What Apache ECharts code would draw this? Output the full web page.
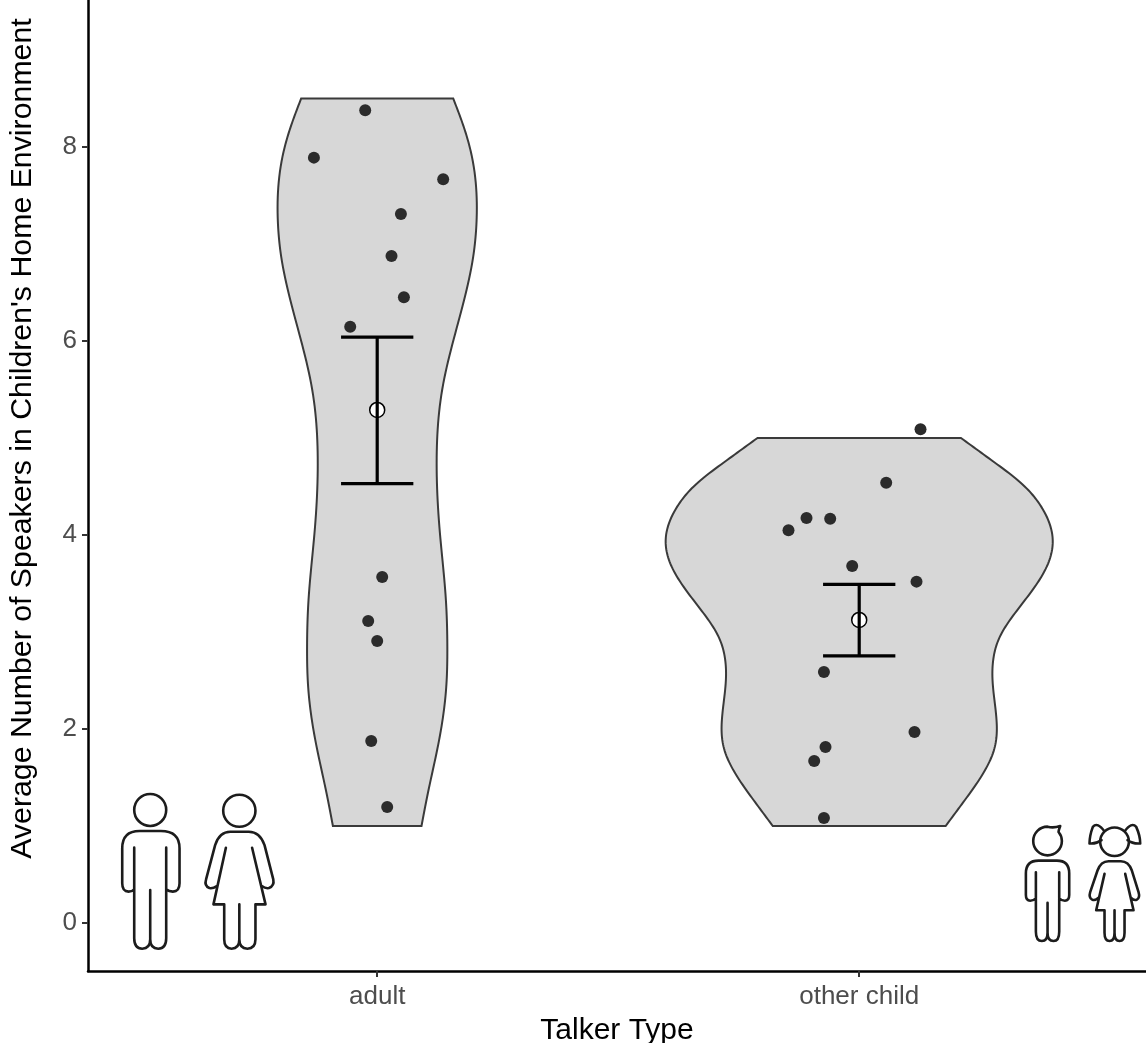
<!DOCTYPE html>
<html><head><meta charset="utf-8">
<style>html,body{margin:0;padding:0;background:#fff}#c{width:1146px;height:1043px}</style>
<script src="https://cdn.jsdelivr.net/npm/echarts@6/dist/echarts.min.js"></script>
</head><body><div id="c"></div>
<script>
const categories = ['adult', 'other child'];
const yTicks = [0, 2, 4, 6, 8];

const adultProfileY = [8.5,8.2,7.9,7.27,6.87,6.19,5.5,4.8,4.02,3.33,2.85,2.43,1.89,1.34,1.0];
const adultProfileW = [.1577,.18,.1965,.2064,.1992,.168,.1349,.1234,.1301,.1425,.1455,.1432,.1286,.1052,.0919];
const childProfileY = [5.0,4.773,4.498,4.292,3.948,3.708,3.467,3.193,2.952,2.711,2.505,2.093,1.818,1.543,1.268,1.0];
const childProfileW = [.211,.2739,.3438,.3776,.4015,.3921,.3645,.323,.2919,.278,.2766,.2849,.2815,.2573,.2193,.1793];

const adultPoints = [[.9751,8.378],[.8687,7.89],[1.1369,7.667],[1.0492,7.309],[1.0297,6.876],[1.0554,6.451],[.944,6.147],[1.0104,3.567],[.9813,3.113],[1.0,2.907],[.9876,1.876],[1.0207,1.196]];
const childPoints = [[2.1272,5.09],[2.056,4.539],[1.8907,4.175],[1.9398,4.168],[1.8533,4.048],[1.9855,3.68],[2.1189,3.519],[1.9268,2.588],[2.1147,1.969],[1.9301,1.814],[1.9066,1.67],[1.9268,1.082]];

const means = [5.289, 3.124];
const errUpper = [6.04, 3.49];
const errLower = [4.53, 2.753];
const capHalf = 0.075;

const iconBoxes = [
  [.471,.5899,1.33,-.265],
  [.6438,.7849,1.322,-.265],
  [2.3458,2.4357,1.0,-.186],
  [2.4778,2.583,1.01,-.186]
];
const iconPaths = [
 'M102 90A48 48 0 1 1 198 90A48 48 0 1 1 102 90ZM102 203L102 475Q102 506 126 506Q150 506 150 478L150 330M150 478Q150 506 174 506Q198 506 198 475L198 203M102 328Q96 335 85 335Q66 335 66 310L66 205Q66 153 118 153L182 153Q238 153 238 205L238 310Q238 335 218 335Q206 335 198 328',
 'M369 92A48 48 0 1 1 465 92A48 48 0 1 1 369 92ZM377 203L340 373L372 373L372 478Q372 506 394 506Q417 506 417 478L417 373M417 478Q417 506 441 506Q465 506 465 478L465 373L495 373L455 203M350 318Q338 326 328 324Q312 318 318 298L345 195Q358 155 390 155L445 155Q478 155 492 195L518 298Q522 318 505 324Q495 326 484 318',
 'M112 50Q130 55 150 48Q145 62 145 66Q155 78 155 93A43 43 0 1 1 112 50ZM77 187L77 365Q77 393 95 393Q112 393 112 368L112 278M112 368Q112 393 130 393Q147 393 147 365L147 187M77 265Q70 272 60 272Q47 272 47 255L47 190Q47 152 85 152L140 152Q177 152 177 190L177 255Q177 272 164 272Q154 272 147 265',
 'M270 93A43 43 0 1 1 356 93A43 43 0 1 1 270 93ZM283 62Q262 32 248 48Q238 75 238 98Q258 100 274 88M343 62Q364 32 378 48Q390 75 390 98Q368 100 352 88M283 190L258 300L283 300L283 368Q283 393 298 393Q313 393 313 368L313 300M313 368Q313 393 328 393Q343 393 343 368L343 300L370 300L345 190M265 262Q255 272 246 268Q235 262 240 245L262 180Q272 152 295 152L332 152Q355 152 365 180L385 245Q390 262 380 268Q372 272 362 262'
];

const FONT = '"Liberation Sans", Arial, sans-serif';

// Outline of a violin: a natural cubic spline through the read-off knots (drawing only).
function outline(ys, ws) {
  const n = ys.length, h = [], a = new Array(n).fill(0), b = new Array(n).fill(1), c = new Array(n).fill(0), d = new Array(n).fill(0);
  for (let i = 0; i < n - 1; i++) h.push(ys[i + 1] - ys[i]);
  for (let i = 1; i < n - 1; i++) {
    a[i] = h[i - 1]; b[i] = 2 * (h[i - 1] + h[i]); c[i] = h[i];
    d[i] = 6 * ((ws[i + 1] - ws[i]) / h[i] - (ws[i] - ws[i - 1]) / h[i - 1]);
  }
  for (let i = 1; i < n; i++) { const m = a[i] / b[i - 1]; b[i] -= m * c[i - 1]; d[i] -= m * d[i - 1]; }
  const s = new Array(n).fill(0);
  s[n - 1] = d[n - 1] / b[n - 1];
  for (let i = n - 2; i >= 0; i--) s[i] = (d[i] - c[i] * s[i + 1]) / b[i];
  const out = [];
  for (let i = 0; i < n - 1; i++) {
    for (let k = 0; k < 12; k++) {
      const A = 1 - k / 12, B = k / 12;
      out.push([ys[i] + B * h[i], A * ws[i] + B * ws[i + 1] + ((A * A * A - A) * s[i] + (B * B * B - B) * s[i + 1]) * h[i] * h[i] / 6]);
    }
  }
  out.push([ys[n - 1], ws[n - 1]]);
  return out;
}

function violinSeries(center, ys, ws) {
  return {
    type: 'custom', coordinateSystem: 'cartesian2d', z: 1, silent: true,
    data: [[center, ys[0]]],
    renderItem: (params, api) => {
      const line = outline(ys, ws);
      const left = line.map(p => api.coord([center - p[1], p[0]]));
      const right = line.map(p => api.coord([center + p[1], p[0]]));
      return { type: 'polygon', shape: { points: left.concat(right.reverse()) },
        style: { fill: '#d7d7d7', stroke: '#3a3a3a', lineWidth: 2 } };
    }
  };
}

const chart = echarts.init(document.getElementById('c'), null, { renderer: 'canvas' });
chart.setOption({
  animation: false,
  backgroundColor: '#fff',
  grid: { left: 88, right: 0, top: 0, bottom: 72, outerBoundsMode: 'none' },
  xAxis: {
    type: 'value', min: 0.4, max: 2.595,
    name: 'Talker Type', nameLocation: 'middle', nameGap: 45,
    nameTextStyle: { fontFamily: FONT, fontSize: 30, color: '#000' },
    splitLine: { show: false },
    axisLine: { show: true, onZero: false, lineStyle: { color: '#000', width: 2.5 } },
    axisTick: { show: true, length: 6, customValues: [1, 2], lineStyle: { color: '#333', width: 2 } },
    axisLabel: { show: true, customValues: [1, 2], margin: 13, fontFamily: FONT, fontSize: 26, color: '#4d4d4d',
      formatter: v => categories[Math.round(v) - 1] }
  },
  yAxis: {
    type: 'value', min: -0.495, max: 9.515,
    name: "Average Number of Speakers in Children's Home Environment",
    nameLocation: 'middle', nameGap: 50, nameRotate: 90,
    nameTextStyle: { fontFamily: FONT, fontSize: 30.3, color: '#000', padding: [0, 0, 0, 94] },
    splitLine: { show: false },
    axisLine: { show: true, onZero: false, lineStyle: { color: '#000', width: 2.5 } },
    axisTick: { show: true, length: 6, customValues: yTicks, lineStyle: { color: '#333', width: 2 } },
    axisLabel: { show: true, customValues: yTicks, margin: 11, fontFamily: FONT, fontSize: 26, color: '#4d4d4d', padding: [7, 0, 0, 0] }
  },
  series: [
    violinSeries(1, adultProfileY, adultProfileW),
    violinSeries(2, childProfileY, childProfileW),
    { type: 'scatter', z: 2, symbolSize: 12, silent: true, itemStyle: { color: '#2b2b2b', opacity: 1 },
      data: adultPoints.concat(childPoints) },
    { type: 'scatter', z: 3, symbolSize: 15, silent: true,
      itemStyle: { color: '#fff', borderColor: '#000', borderWidth: 1.5, opacity: 1 },
      data: means.map((m, i) => [i + 1, m]) },
    { type: 'custom', coordinateSystem: 'cartesian2d', z: 4, silent: true,
      data: means.map((m, i) => [i + 1, errLower[i], errUpper[i]]),
      encode: { x: 0, y: [1, 2] },
      renderItem: (params, api) => {
        const x = api.value(0), lo = api.value(1), hi = api.value(2);
        const seg = (a, b) => ({ type: 'line',
          shape: { x1: a[0], y1: a[1], x2: b[0], y2: b[1] },
          style: { stroke: '#000', lineWidth: 3.2, fill: null } });
        return { type: 'group', children: [
          seg(api.coord([x, lo]), api.coord([x, hi])),
          seg(api.coord([x - capHalf, hi]), api.coord([x + capHalf, hi])),
          seg(api.coord([x - capHalf, lo]), api.coord([x + capHalf, lo]))
        ] };
      } },
    { type: 'custom', coordinateSystem: 'cartesian2d', z: 5, silent: true, clip: false,
      data: iconBoxes,
      encode: { x: [0, 1], y: [2, 3] },
      renderItem: (params, api) => {
        const a = api.coord([api.value(0), api.value(2)]);
        const b = api.coord([api.value(1), api.value(3)]);
        return { type: 'path',
          shape: { pathData: iconPaths[params.dataIndex], x: a[0], y: a[1], width: b[0] - a[0], height: b[1] - a[1], layout: 'cover' },
          style: { fill: 'none', stroke: '#1c1c1c', lineWidth: 2.6, lineJoin: 'round', lineCap: 'round' } };
      } }
  ]
});
</script></body></html>
